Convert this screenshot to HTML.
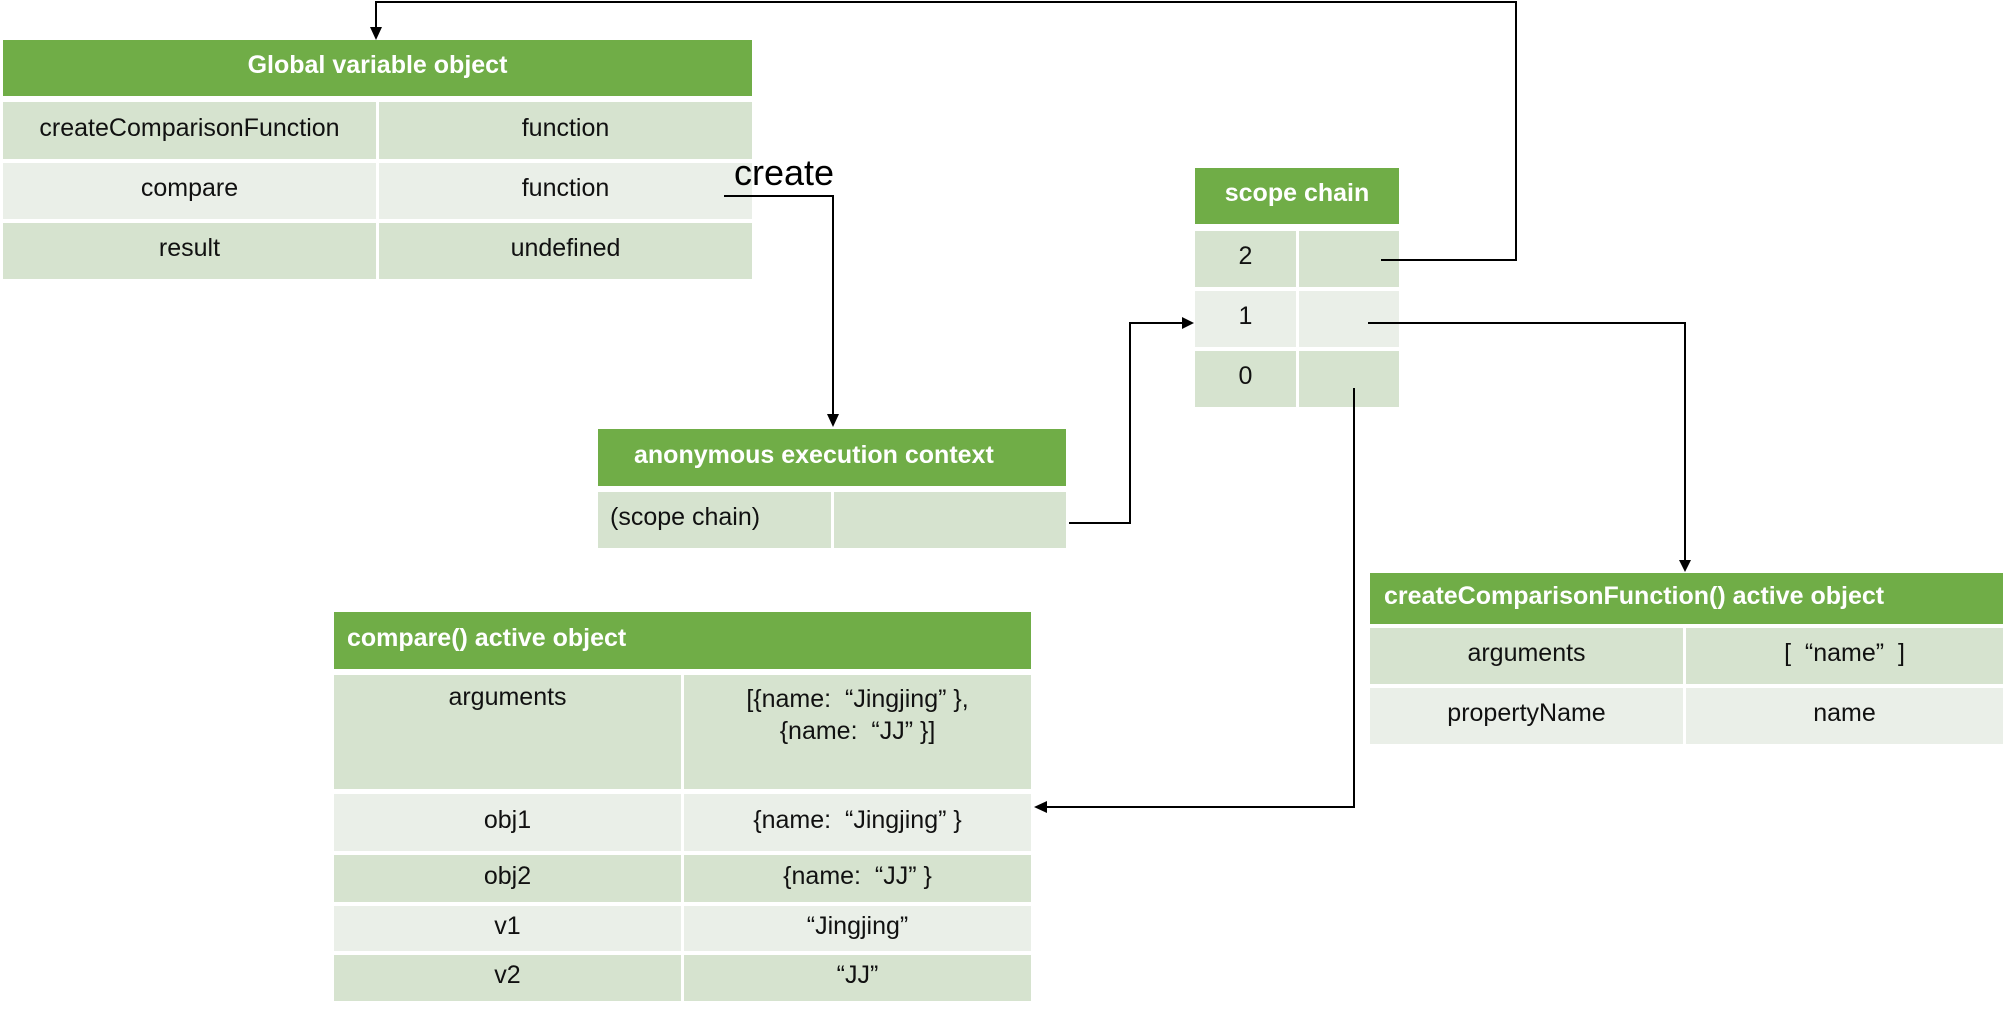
<!DOCTYPE html>
<html><head><meta charset="utf-8"><style>
body{margin:0;width:2009px;height:1013px;background:#fff;position:relative;overflow:hidden;font-family:"Liberation Sans","Noto Sans CJK SC",sans-serif;}
.c{position:absolute;box-sizing:border-box;font-size:25px;color:#111;text-align:center;display:flex;align-items:center;justify-content:center;padding-bottom:5px;}
.h{background:#70ad47;color:#fff;font-weight:bold;font-size:25px;}
.d{background:#d6e3cf;}
.l{background:#eaefe8;}
svg{position:absolute;left:0;top:0;}
</style></head><body>
<!-- Global -->
<div class="c h" style="left:3px;top:40px;width:749px;height:56px;">Global variable object</div>
<div class="c d" style="left:3px;top:102px;width:373px;height:57px;">createComparisonFunction</div>
<div class="c d" style="left:379px;top:102px;width:373px;height:57px;">function</div>
<div class="c l" style="left:3px;top:163px;width:373px;height:56px;">compare</div>
<div class="c l" style="left:379px;top:163px;width:373px;height:56px;">function</div>
<div class="c d" style="left:3px;top:223px;width:373px;height:56px;">result</div>
<div class="c d" style="left:379px;top:223px;width:373px;height:56px;">undefined</div>
<!-- anonymous -->
<div class="c h" style="left:598px;top:429px;width:468px;height:57px;justify-content:flex-start;padding-left:36px;">anonymous execution context</div>
<div class="c d" style="left:598px;top:492px;width:233px;height:56px;justify-content:flex-start;padding-left:12px;">(scope chain)</div>
<div class="c d" style="left:834px;top:492px;width:232px;height:56px;"></div>
<!-- scope chain -->
<div class="c h" style="left:1195px;top:168px;width:204px;height:56px;">scope chain</div>
<div class="c d" style="left:1195px;top:231px;width:101px;height:56px;">2</div>
<div class="c d" style="left:1299px;top:231px;width:100px;height:56px;"></div>
<div class="c l" style="left:1195px;top:291px;width:101px;height:56px;">1</div>
<div class="c l" style="left:1299px;top:291px;width:100px;height:56px;"></div>
<div class="c d" style="left:1195px;top:351px;width:101px;height:56px;">0</div>
<div class="c d" style="left:1299px;top:351px;width:100px;height:56px;"></div>
<!-- cCF AO -->
<div class="c h" style="left:1370px;top:573px;width:633px;height:51px;justify-content:flex-start;padding-left:14px;">createComparisonFunction() active object</div>
<div class="c d" style="left:1370px;top:628px;width:313px;height:56px;">arguments</div>
<div class="c d" style="left:1686px;top:628px;width:317px;height:56px;">[&nbsp;&nbsp;“name”&nbsp;&nbsp;]</div>
<div class="c l" style="left:1370px;top:688px;width:313px;height:56px;">propertyName</div>
<div class="c l" style="left:1686px;top:688px;width:317px;height:56px;">name</div>
<!-- compare AO -->
<div class="c h" style="left:334px;top:612px;width:697px;height:57px;justify-content:flex-start;padding-left:13px;">compare() active object</div>
<div class="c d" style="left:334px;top:675px;width:347px;height:114px;align-items:flex-start;padding-top:8px;">arguments</div>
<div class="c d" style="left:684px;top:675px;width:347px;height:114px;align-items:flex-start;padding-top:8px;line-height:32px;">[{name:&nbsp;&nbsp;“Jingjing”&nbsp;},<br>{name:&nbsp;&nbsp;“JJ”&nbsp;}]</div>
<div class="c l" style="left:334px;top:794px;width:347px;height:57px;">obj1</div>
<div class="c l" style="left:684px;top:794px;width:347px;height:57px;">{name:&nbsp;&nbsp;“Jingjing”&nbsp;}</div>
<div class="c d" style="left:334px;top:855px;width:347px;height:47px;">obj2</div>
<div class="c d" style="left:684px;top:855px;width:347px;height:47px;">{name:&nbsp;&nbsp;“JJ”&nbsp;}</div>
<div class="c l" style="left:334px;top:906px;width:347px;height:45px;">v1</div>
<div class="c l" style="left:684px;top:906px;width:347px;height:45px;">“Jingjing”</div>
<div class="c d" style="left:334px;top:955px;width:347px;height:46px;">v2</div>
<div class="c d" style="left:684px;top:955px;width:347px;height:46px;">“JJ”</div>
<div style="position:absolute;left:734px;top:152px;font-size:36px;color:#000;">create</div>
<svg width="2009" height="1013" viewBox="0 0 2009 1013">
<g fill="none" stroke="#000" stroke-width="2">
<polyline points="1381,260 1516,260 1516,2 376,2 376,28"/>
<polyline points="724,196 833,196 833,415"/>
<polyline points="1069,523 1130,523 1130,323 1183,323"/>
<polyline points="1368,323 1685,323 1685,561"/>
<polyline points="1354,388 1354,807 1046,807"/>
</g>
<g fill="#000">
<polygon points="370,27 382,27 376,40"/>
<polygon points="827,414 839,414 833,427"/>
<polygon points="1182,317 1182,329 1194,323"/>
<polygon points="1679,560 1691,560 1685,572"/>
<polygon points="1047,801 1047,813 1034,807"/>
</g>
</svg>
</body></html>
